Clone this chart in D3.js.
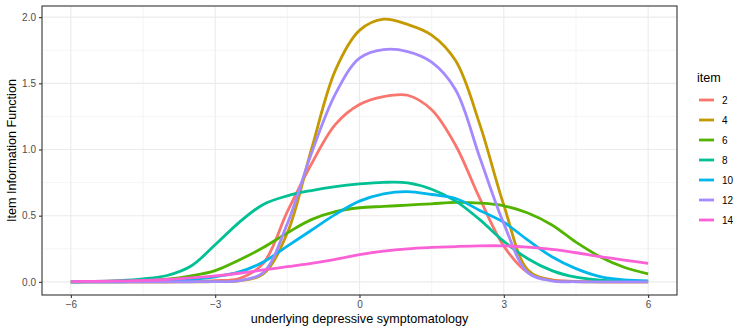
<!DOCTYPE html>
<html>
<head>
<meta charset="utf-8">
<script src="https://cdn.jsdelivr.net/npm/d3@7"></script>
<style>
  body { margin: 0; background: #fff; }
  text { font-family: "Liberation Sans", Arial, sans-serif; }
</style>
</head>
<body>
<div id="chart"></div>
<script>
// theta grid and item information values
var theta = [-6, -5.5, -5, -4.5, -4, -3.5, -3, -2.5, -2, -1.5, -1, -0.5, 0,
             0.5, 1, 1.5, 2, 2.5, 3, 3.5, 4, 4.5, 5, 5.5, 6];

var item2  = [0, 0, 0, 0, 0.001, 0.004, 0.01, 0.025, 0.14, 0.53, 0.89, 1.19, 1.34,
              1.40, 1.41, 1.30, 1.03, 0.63, 0.27, 0.07, 0.015, 0.004, 0.001, 0, 0];
var item4  = [0, 0, 0, 0, 0, 0, 0.002, 0.008, 0.06, 0.37, 1.0, 1.60, 1.90,
              1.985, 1.945, 1.865, 1.67, 1.19, 0.58, 0.09, 0.012, 0.002, 0, 0, 0];
var item6  = [0.001, 0.002, 0.005, 0.01, 0.02, 0.045, 0.085, 0.165, 0.26, 0.37, 0.47, 0.53, 0.56,
              0.57, 0.58, 0.59, 0.60, 0.595, 0.575, 0.52, 0.43, 0.30, 0.19, 0.11, 0.06];
var item8  = [0.001, 0.003, 0.009, 0.022, 0.048, 0.12, 0.28, 0.45, 0.585, 0.65, 0.69, 0.72, 0.74,
              0.752, 0.748, 0.70, 0.61, 0.47, 0.306, 0.175, 0.085, 0.035, 0.013, 0.005, 0.002];
var item10 = [0, 0, 0.001, 0.003, 0.008, 0.018, 0.038, 0.075, 0.15, 0.27, 0.39, 0.51, 0.61,
              0.665, 0.682, 0.66, 0.63, 0.54, 0.45, 0.315, 0.19, 0.10, 0.04, 0.015, 0.008];
var item12 = [0, 0, 0, 0, 0, 0.001, 0.002, 0.01, 0.07, 0.44, 0.97, 1.42, 1.69,
              1.755, 1.74, 1.66, 1.45, 0.94, 0.44, 0.07, 0.008, 0.001, 0, 0, 0];
var item14 = [0.002, 0.004, 0.007, 0.011, 0.018, 0.03, 0.045, 0.065, 0.09, 0.115, 0.14, 0.17, 0.205,
              0.232, 0.25, 0.26, 0.267, 0.272, 0.272, 0.262, 0.245, 0.22, 0.19, 0.165, 0.14];

var items = ["2", "4", "6", "8", "10", "12", "14"];
var values = [item2, item4, item6, item8, item10, item12, item14];
var colors = ["#F8766D", "#C49A00", "#53B400", "#00C094", "#00B6EB", "#A58AFF", "#FB61D7"];

var xTicks = [-6, -3, 0, 3, 6];
var xMinor = [-4.5, -1.5, 1.5, 4.5];
var yTicks = [0, 0.5, 1, 1.5, 2];
var yMinor = [0.25, 0.75, 1.25, 1.75];

var width = 747, height = 332;
var margin = { top: 6, right: 70, bottom: 37, left: 42 };
var pw = width - margin.left - margin.right,
    ph = height - margin.top - margin.bottom;

var svg = d3.select("#chart")
  .append("svg")
    .attr("width", width)
    .attr("height", height);

var ymax = d3.max(values, function(v) { return d3.max(v); });
var x = d3.scaleLinear().domain([-6.6, 6.6]).range([0, pw]);
var y = d3.scaleLinear().domain([-0.05 * ymax, ymax * 1.05]).range([ph, 0]);

var g = svg.append("g").attr("transform", "translate(" + margin.left + "," + margin.top + ")");

// grid
g.selectAll(".xminor").data(xMinor).enter().append("line")
  .attr("x1", d => x(d)).attr("x2", d => x(d)).attr("y1", 0).attr("y2", ph)
  .attr("stroke", "#ebebeb").attr("stroke-width", 0.55);
g.selectAll(".yminor").data(yMinor).enter().append("line")
  .attr("y1", d => y(d)).attr("y2", d => y(d)).attr("x1", 0).attr("x2", pw)
  .attr("stroke", "#ebebeb").attr("stroke-width", 0.55);
g.selectAll(".xmajor").data(xTicks).enter().append("line")
  .attr("x1", d => x(d)).attr("x2", d => x(d)).attr("y1", 0).attr("y2", ph)
  .attr("stroke", "#ebebeb").attr("stroke-width", 1.1);
g.selectAll(".ymajor").data(yTicks).enter().append("line")
  .attr("y1", d => y(d)).attr("y2", d => y(d)).attr("x1", 0).attr("x2", pw)
  .attr("stroke", "#ebebeb").attr("stroke-width", 1.1);

// curves
var line = d3.line()
  .x((d, i) => x(theta[i]))
  .y(d => y(d))
  .curve(d3.curveCatmullRom.alpha(0.5));

g.selectAll(".curve").data(values).enter().append("path")
  .attr("fill", "none")
  .attr("stroke", (d, i) => colors[i])
  .attr("stroke-width", 2.8)
  .attr("stroke-linejoin", "round")
  .attr("d", d => line(d));

// border
g.append("rect").attr("width", pw).attr("height", ph)
  .attr("fill", "none").attr("stroke", "#333333").attr("stroke-width", 1.1);

// axes
var xAxis = g.append("g").attr("transform", "translate(0," + ph + ")")
  .call(d3.axisBottom(x).tickValues(xTicks).tickSize(3).tickPadding(3)
    .tickFormat(d => d < 0 ? "\u2212" + Math.abs(d) : d));
var yAxis = g.append("g")
  .call(d3.axisLeft(y).tickValues(yTicks).tickSize(3).tickPadding(3)
    .tickFormat(d3.format(".1f")));
[xAxis, yAxis].forEach(function(a) {
  a.select(".domain").remove();
  a.selectAll(".tick line").attr("stroke", "#333333").attr("stroke-width", 1.1);
  a.selectAll(".tick text").attr("fill", "#4d4d4d").style("font-size", "10px")
    .style("font-family", "Liberation Sans, Arial, sans-serif");
});

svg.append("text")
  .attr("x", margin.left + pw / 2).attr("y", 323)
  .attr("text-anchor", "middle").style("font-size", "12.6px")
  .text("underlying depressive symptomatology");
svg.append("text")
  .attr("transform", "translate(16," + (margin.top + ph / 2) + ") rotate(-90)")
  .attr("text-anchor", "middle").style("font-size", "12.6px")
  .text("Item Information Function");

// legend
var leg = svg.append("g").attr("transform", "translate(697,0)");
leg.append("text").attr("x", 0).attr("y", 82).style("font-size", "12.6px").text("item");
var rows = leg.selectAll(".row").data(items).enter().append("g")
  .attr("transform", (d, i) => "translate(0," + (100 + i * 20) + ")");
rows.append("line").attr("x1", 2).attr("x2", 17).attr("y1", 0).attr("y2", 0)
  .attr("stroke", (d, i) => colors[i]).attr("stroke-width", 2.8);
rows.append("text").attr("x", 25).attr("y", 3.6).style("font-size", "10px")
  .attr("fill", "#000").text(d => d);
</script>
</body>
</html>
